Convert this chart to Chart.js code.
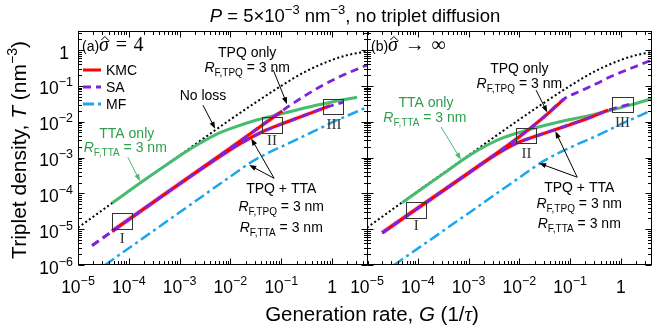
<!DOCTYPE html>
<html>
<head>
<meta charset="utf-8">
<title>Triplet density vs generation rate</title>
<script src="https://cdn.jsdelivr.net/npm/chart.js@4.4.1/dist/chart.umd.min.js"></script>
<style>
  html, body { margin: 0; padding: 0; background: #fff; }
  #wrap { position: relative; width: 654px; height: 331px; }
  #wrap canvas { position: absolute; left: 0; top: 0; }
</style>
</head>
<body>
<div id="wrap">
  <canvas id="panelA" width="654" height="331"></canvas>
  <canvas id="panelB" width="654" height="331"></canvas>
</div>
<script>
// ---- axes / tick labels ----
const xTickVals = [1e-5, 1e-4, 1e-3, 1e-2, 1e-1, 1];
const xTickLabels = ['10^-5', '10^-4', '10^-3', '10^-2', '10^-1', '1'];
const yTickVals = [1e-6, 1e-5, 1e-4, 1e-3, 1e-2, 1e-1, 1];
const yTickLabels = ['10^-6', '10^-5', '10^-4', '10^-3', '10^-2', '10^-1', '1'];
const legendNames = ['KMC', 'SA', 'MF'];

// ---- "no loss" curve (same in both panels) ----
const noLossG = [1e-5, 1e-4, 1e-3, 1e-2, 3e-2, 0.1, 0.3, 1, 2, 5.1];
const noLossT = [1.1e-5, 1.15e-4, 1.15e-3, 1.15e-2, 3.3e-2, 0.1, 0.25, 0.53, 0.72, 0.92];

// ---- panel (a), sigma = 4 ----
const aTtaG = [4.7e-5, 2.5e-4, 6.3e-4, 1.26e-3, 2.5e-3, 5.5e-3, 1.26e-2, 3.16e-2, 0.1, 0.316, 1, 3.1];
const aTtaT = [5.4e-5, 2.9e-4, 7.1e-4, 1.38e-3, 2.5e-3, 4.6e-3, 7.2e-3, 1.1e-2, 1.66e-2, 2.5e-2, 3.55e-2, 4.8e-2];
const aMfG = [3.4e-5, 1e-3, 1e-2, 2.75e-2, 5e-2, 0.1, 0.316, 1, 5.1];
const aMfT = [1e-6, 2.95e-5, 2.95e-4, 7.9e-4, 1.25e-3, 2e-3, 4.3e-3, 9.5e-3, 2.6e-2];
const aSaTpqG = [1.9e-5, 1e-4, 1e-3, 1e-2, 0.13, 0.57, 1.66, 5.1];
const aSaTpqT = [3.5e-6, 1.85e-5, 1.85e-4, 1.85e-3, 2.5e-2, 9.3e-2, 0.2, 0.39];
const aSaBothG = [1.9e-5, 1e-4, 1e-3, 4e-3, 1.55e-2, 4.4e-2, 0.105, 0.27, 0.66, 1.66];
const aSaBothT = [3.5e-6, 1.85e-5, 1.83e-4, 7e-4, 2.4e-3, 5.3e-3, 8.8e-3, 1.45e-2, 2.35e-2, 3.5e-2];
const aKmcTpqG = [4.7e-5, 1e-4, 1e-3, 1e-2, 0.105];
const aKmcTpqT = [8.8e-6, 1.88e-5, 1.87e-4, 1.86e-3, 2e-2];
const aKmcBothG = [4.7e-5, 1e-4, 1e-3, 4e-3, 1.55e-2, 4.4e-2, 0.105, 0.27, 0.66, 0.91];
const aKmcBothT = [8.8e-6, 1.88e-5, 1.84e-4, 7.05e-4, 2.42e-3, 5.35e-3, 8.8e-3, 1.45e-2, 2.35e-2, 2.8e-2];

// ---- panel (b), sigma -> infinity ----
const bTtaG = [4.9e-5, 3.2e-4, 1e-3, 2.5e-3, 5e-3, 1e-2, 2.5e-2, 6.3e-2, 0.2, 0.51, 1.58, 4.1];
const bTtaT = [5.5e-5, 3.55e-4, 1.1e-3, 2.35e-3, 3.63e-3, 5e-3, 7.2e-3, 1e-2, 1.41e-2, 1.95e-2, 2.95e-2, 4.4e-2];
const bMfG = [3.4e-5, 1e-3, 1e-2, 3.16e-2, 0.1, 0.316, 1, 4.1];
const bMfT = [1e-6, 2.8e-5, 2.75e-4, 8.3e-4, 1.9e-3, 3.9e-3, 8.5e-3, 2.1e-2];
const bSaTpqG = [2e-5, 1e-3, 1e-2, 3.16e-2, 7.6e-2, 0.158, 0.316, 0.63, 1.29, 4.1];
const bSaTpqT = [7.9e-6, 3.7e-4, 3.8e-3, 1.41e-2, 4.3e-2, 7.1e-2, 0.112, 0.182, 0.275, 0.53];
const bSaBothG = [2e-5, 1e-3, 3.16e-3, 8.7e-3, 2.14e-2, 5.1e-2, 0.1, 0.25, 0.56, 1.7];
const bSaBothT = [7.9e-6, 3.7e-4, 1.12e-3, 2.5e-3, 3.98e-3, 6e-3, 8.3e-3, 1.32e-2, 2.1e-2, 3.24e-2];
const bKmcTpqG = [2e-5, 1e-3, 1e-2, 3.16e-2, 7.6e-2];
const bKmcTpqT = [8e-6, 3.7e-4, 3.8e-3, 1.41e-2, 4.3e-2];
const bKmcBothG = [2e-5, 1e-3, 3.16e-3, 8.7e-3, 2.14e-2, 5.1e-2, 0.1, 0.25, 0.56];
const bKmcBothT = [8e-6, 3.7e-4, 1.12e-3, 2.5e-3, 3.98e-3, 6e-3, 8.3e-3, 1.32e-2, 2.1e-2];

// ---- styles ----
const RED = '#ff0000';
const PURPLE = '#7f22dd';
const BLUE = '#1ba6ef';
const GREEN = '#46bd6e';
const GREEN_TXT = '#2e9d4f';
const BAND = 'rgba(255, 90, 90, 0.22)';
const SA_DASH = [8, 5];
const MF_DASH = [11, 4, 3, 4];
const DOT_DASH = [2, 2.5];

const SANS = '"Liberation Sans", Arial, sans-serif';
const SERIF = '"Liberation Serif", "Times New Roman", serif';
const sans = (s, st) => `${st || 'normal'} ${s}px ${SANS}`;
const serif = (s, st) => `${st || 'normal'} ${s}px ${SERIF}`;

function series(G, T, color, width, dash, order) {
    return {
        data: G.map((g, i) => ({ x: g, y: T[i] })),
        borderColor: color,
        borderWidth: width,
        borderDash: dash,
        borderCapStyle: 'butt',
        order: order,
        fill: false,
        pointRadius: 0
    };
}

// ---- text helpers ----
// parts: [text, font, dy, hat]
function drawRich(ctx, parts, x, y, align, color) {
    let w = 0;
    const widths = parts.map(p => {
        ctx.font = p[1];
        const m = ctx.measureText(p[0]).width;
        w += m;
        return m;
    });
    let cx = align === 'center' ? x - w / 2 : (align === 'right' ? x - w : x);
    ctx.textAlign = 'left';
    ctx.textBaseline = 'alphabetic';
    ctx.fillStyle = color || '#000';
    ctx.strokeStyle = color || '#000';
    parts.forEach((p, i) => {
        ctx.font = p[1];
        ctx.fillText(p[0], cx, y + (p[2] || 0));
        if (p[3]) {
            // circumflex accent over the glyph
            const hx = cx + widths[i] * 0.58;
            ctx.lineWidth = 1;
            ctx.setLineDash([]);
            ctx.beginPath();
            ctx.moveTo(hx - 3.5, y - 11);
            ctx.lineTo(hx, y - 14.5);
            ctx.lineTo(hx + 3.5, y - 11);
            ctx.stroke();
        }
        cx += widths[i];
    });
}

function powParts(label) {
    const [b, e] = label.split('^');
    if (!e) return [[b, sans(17.5)]];
    return [[b, sans(17.5)], [e.replace('-', '\u2212'), sans(12.5), -8]];
}

const rf = kind => [['R', sans(14, 'italic')], ['F,' + kind, sans(10), 4], [' = 3 nm', sans(14)]];

function logTicks(min, max) {
    const out = [];
    for (let e = Math.floor(Math.log10(min)); e <= Math.ceil(Math.log10(max)); e++) {
        for (let m = 1; m < 10; m++) {
            const v = m * Math.pow(10, e);
            if (v >= min * 0.999 && v <= max * 1.001) out.push({ v, major: m === 1 });
        }
    }
    return out;
}

function arrow(ctx, x1, y1, x2, y2, color) {
    const ang = Math.atan2(y2 - y1, x2 - x1);
    const hl = 7, hw = 2.6;
    ctx.strokeStyle = color;
    ctx.fillStyle = color;
    ctx.lineWidth = 1;
    ctx.setLineDash([]);
    ctx.beginPath();
    ctx.moveTo(x1, y1);
    ctx.lineTo(x2 - Math.cos(ang) * hl * 0.8, y2 - Math.sin(ang) * hl * 0.8);
    ctx.stroke();
    ctx.beginPath();
    ctx.moveTo(x2, y2);
    ctx.lineTo(x2 - Math.cos(ang) * hl + Math.sin(ang) * hw, y2 - Math.sin(ang) * hl - Math.cos(ang) * hw);
    ctx.lineTo(x2 - Math.cos(ang) * hl - Math.sin(ang) * hw, y2 - Math.sin(ang) * hl + Math.cos(ang) * hw);
    ctx.closePath();
    ctx.fill();
}

// frame, inward ticks and tick labels
function drawFrame(chart, withYLabels) {
    const ctx = chart.ctx, a = chart.chartArea, xs = chart.scales.x, ys = chart.scales.y;
    const L = Math.round(a.left) + 0.5, R = Math.round(a.right) - 0.5;
    const T = Math.round(a.top) + 0.5, B = Math.round(a.bottom) - 0.5;
    ctx.save();
    ctx.setLineDash([]);
    ctx.strokeStyle = '#000';
    ctx.lineWidth = 1;
    ctx.strokeRect(L, T, R - L, B - T);
    ctx.beginPath();
    logTicks(xs.min, xs.max).forEach(t => {
        const x = Math.round(xs.getPixelForValue(t.v)) + 0.5, len = t.major ? 6 : 3.5;
        ctx.moveTo(x, B); ctx.lineTo(x, B - len);
        ctx.moveTo(x, T); ctx.lineTo(x, T + len);
    });
    logTicks(ys.min, ys.max).forEach(t => {
        const y = Math.round(ys.getPixelForValue(t.v)) + 0.5, len = t.major ? 6 : 3.5;
        ctx.moveTo(L, y); ctx.lineTo(L + len, y);
        ctx.moveTo(R, y); ctx.lineTo(R - len, y);
    });
    ctx.stroke();
    xTickVals.forEach((v, i) => {
        drawRich(ctx, powParts(xTickLabels[i]), xs.getPixelForValue(v), a.bottom + 28, 'center');
    });
    if (withYLabels) {
        yTickVals.forEach((v, i) => {
            const lab = yTickLabels[i];
            const dx = lab.includes('^') ? 5 : 9;
            drawRich(ctx, powParts(lab), a.left - dx, ys.getPixelForValue(v) + 8.5, 'right');
        });
    }
    ctx.restore();
}

function drawBoxes(chart, boxes) {
    const ctx = chart.ctx, xs = chart.scales.x, ys = chart.scales.y;
    const X = lg => xs.getPixelForValue(Math.pow(10, lg));
    const Y = lg => ys.getPixelForValue(Math.pow(10, lg));
    ctx.save();
    ctx.setLineDash([]);
    ctx.strokeStyle = '#333';
    ctx.lineWidth = 1;
    boxes.forEach(b => {
        const x0 = Math.round(X(b[0])) + 0.5, x1 = Math.round(X(b[1])) + 0.5;
        const y0 = Math.round(Y(b[3])) + 0.5, y1 = Math.round(Y(b[2])) + 0.5;
        ctx.strokeRect(x0, y0, x1 - x0, y1 - y0);
        drawRich(ctx, [[b[4], serif(15)]], X(b[5]), Y(b[6]) + 5, 'center', '#333');
    });
    ctx.restore();
}

// annotations of panel (a); positions in log10 data units
function notesA(chart) {
    const ctx = chart.ctx, a = chart.chartArea, xs = chart.scales.x, ys = chart.scales.y;
    const X = lg => xs.getPixelForValue(Math.pow(10, lg));
    const Y = lg => ys.getPixelForValue(Math.pow(10, lg));
    ctx.save();
    drawRich(ctx, [['(a)', sans(14)], ['\u03C3', serif(20, 'italic'), 0, true], ['\u2004=\u20044', serif(20)]], a.left + 4, a.top + 20, 'left');

    // legend
    const legendStyle = [[RED, []], [PURPLE, SA_DASH], [BLUE, MF_DASH]];
    legendNames.forEach((name, i) => {
        const y = a.top + 39 + i * 17;
        ctx.strokeStyle = legendStyle[i][0];
        ctx.lineWidth = 3;
        ctx.setLineDash(legendStyle[i][1]);
        ctx.beginPath();
        ctx.moveTo(a.left + 5, y);
        ctx.lineTo(a.left + 23, y);
        ctx.stroke();
        drawRich(ctx, [[name, sans(14)]], a.left + 28, y + 5, 'left');
    });
    ctx.setLineDash([]);

    drawRich(ctx, [['TPQ only', sans(14)]], X(-1.67), Y(-0.06) + 5, 'center');
    drawRich(ctx, rf('TPQ'), X(-1.67), Y(-0.47) + 5, 'center');
    arrow(ctx, X(-1.156), Y(-0.56), X(-0.886), Y(-1.51), '#000');

    drawRich(ctx, [['No loss', sans(14)]], X(-2.54), Y(-1.26) + 5, 'center');
    arrow(ctx, X(-2.54), Y(-1.54), X(-2.30), Y(-2.2), '#000');

    drawRich(ctx, [['TTA only', sans(14)]], X(-4.04), Y(-2.32) + 5, 'center', GREEN_TXT);
    drawRich(ctx, rf('TTA'), X(-4.07), Y(-2.71) + 5, 'center', GREEN_TXT);
    arrow(ctx, X(-4.02), Y(-2.99), X(-3.78), Y(-3.66), GREEN);

    drawRich(ctx, [['TPQ + TTA', sans(14)]], X(-1.0), Y(-3.85) + 5, 'center');
    drawRich(ctx, rf('TPQ'), X(-1.0), Y(-4.36) + 5, 'center');
    drawRich(ctx, rf('TTA'), X(-1.0), Y(-4.94) + 5, 'center');
    arrow(ctx, X(-1.14), Y(-3.58), X(-1.63), Y(-3.21), '#000');
    arrow(ctx, X(-1.14), Y(-3.58), X(-1.59), Y(-2.47), '#000');
    ctx.restore();

    drawBoxes(chart, [
        [-4.33, -3.94, -5.0, -4.55, 'I', -4.13, -5.25],
        [-1.38, -0.98, -2.32, -1.87, 'II', -1.18, -2.51],
        [-0.18, 0.22, -1.79, -1.37, 'III', 0.04, -2.07]
    ]);
}

// annotations of panel (b)
function notesB(chart) {
    const ctx = chart.ctx, a = chart.chartArea, xs = chart.scales.x, ys = chart.scales.y;
    const X = lg => xs.getPixelForValue(Math.pow(10, lg));
    const Y = lg => ys.getPixelForValue(Math.pow(10, lg));
    ctx.save();
    drawRich(ctx, [['(b)', sans(14)], ['\u03C3', serif(20, 'italic'), 0, true], ['\u2004\u2192\u2004\u221E', serif(20)]], a.left + 4, a.top + 20, 'left');

    drawRich(ctx, [['TPQ only', sans(14)]], X(-2.0), Y(-0.50) + 5, 'center');
    drawRich(ctx, rf('TPQ'), X(-2.0), Y(-0.92) + 5, 'center');
    arrow(ctx, X(-1.67), Y(-1.12), X(-1.45), Y(-1.74), '#000');

    drawRich(ctx, [['TTA only', sans(14)]], X(-3.84), Y(-1.45) + 5, 'center', GREEN_TXT);
    drawRich(ctx, rf('TTA'), X(-3.86), Y(-1.87) + 5, 'center', GREEN_TXT);
    arrow(ctx, X(-3.54), Y(-2.15), X(-3.15), Y(-3.06), GREEN);

    drawRich(ctx, [['TPQ + TTA', sans(14)]], X(-0.82), Y(-3.83) + 5, 'center');
    drawRich(ctx, rf('TPQ'), X(-0.82), Y(-4.27) + 5, 'center');
    drawRich(ctx, rf('TTA'), X(-0.82), Y(-4.83) + 5, 'center');
    arrow(ctx, X(-0.86), Y(-3.55), X(-1.61), Y(-3.16), '#000');
    arrow(ctx, X(-0.86), Y(-3.55), X(-1.29), Y(-2.27), '#000');
    ctx.restore();

    drawBoxes(chart, [
        [-4.23, -3.84, -4.69, -4.25, 'I', -4.03, -4.89],
        [-2.06, -1.67, -2.6, -2.18, 'II', -1.86, -2.88],
        [-0.17, 0.23, -1.73, -1.31, 'III', 0.03, -2.01]
    ]);
}

// shared title and axis titles
function drawTitles(chart) {
    const ctx = chart.ctx;
    ctx.save();
    drawRich(ctx, [
        ['P', sans(18.5, 'italic')], [' = 5\u00D710', sans(18.5)], ['\u22123', sans(13), -8],
        [' nm', sans(18.5)], ['\u22123', sans(13), -8], [', no triplet diffusion', sans(18.5)]
    ], 355, 22, 'center');
    drawRich(ctx, [
        ['Generation rate, ', sans(20.5)], ['G', sans(20.5, 'italic')], [' (1/', sans(20.5)],
        ['\u03C4', serif(21, 'italic')], [')', sans(20.5)]
    ], 372, 321, 'center');
    ctx.translate(26, 150);
    ctx.rotate(-Math.PI / 2);
    drawRich(ctx, [
        ['Triplet density, ', sans(21)], ['T', sans(21, 'italic')], [' (nm', sans(21)],
        ['\u22123', sans(14), -9], [')', sans(21)]
    ], 0, 0, 'center');
    ctx.restore();
}

function makeChart(id, sets, xMax, padding, extras) {
    return new Chart(document.getElementById(id), {
        type: 'line',
        data: { datasets: sets },
        options: {
            responsive: false,
            animation: false,
            events: [],
            layout: { padding: padding },
            elements: { line: { cubicInterpolationMode: 'monotone' }, point: { radius: 0 } },
            plugins: { legend: { display: false }, tooltip: { enabled: false } },
            scales: {
                x: { type: 'logarithmic', min: 1e-5, max: xMax, display: false },
                y: { type: 'logarithmic', min: 1e-6, max: 3.4, display: false }
            }
        },
        plugins: [{ id: 'decor' + id, afterDraw: extras }]
    });
}

makeChart('panelA', [
    series(aSaTpqG, aSaTpqT, PURPLE, 2.8, SA_DASH, 1),
    series(aSaBothG, aSaBothT, PURPLE, 2.8, SA_DASH, 1),
    series(aKmcTpqG, aKmcTpqT, RED, 3, [], 2),
    series(aKmcBothG, aKmcBothT, RED, 3, [], 2),
    series(aKmcTpqG, aKmcTpqT, BAND, 5, [], 3),
    series(aKmcBothG, aKmcBothT, BAND, 5, [], 3),
    series(aMfG, aMfT, BLUE, 2.5, MF_DASH, 4),
    series(aTtaG, aTtaT, GREEN, 3, [], 5),
    series(noLossG, noLossT, '#000', 2, DOT_DASH, 6)
], 5.1, { left: 78, right: 286, top: 31, bottom: 66 }, chart => {
    drawFrame(chart, true);
    notesA(chart);
    drawTitles(chart);
});

makeChart('panelB', [
    series(bSaTpqG, bSaTpqT, PURPLE, 2.8, SA_DASH, 1),
    series(bSaBothG, bSaBothT, PURPLE, 2.8, SA_DASH, 1),
    series(bKmcTpqG, bKmcTpqT, RED, 3, [], 2),
    series(bKmcBothG, bKmcBothT, RED, 3, [], 2),
    series(bKmcTpqG, bKmcTpqT, BAND, 5, [], 3),
    series(bKmcBothG, bKmcBothT, BAND, 5, [], 3),
    series(bMfG, bMfT, BLUE, 2.5, MF_DASH, 4),
    series(bTtaG, bTtaT, GREEN, 3, [], 5),
    series(noLossG, noLossT, '#000', 2, DOT_DASH, 6)
], 4.1, { left: 367, right: 2, top: 31, bottom: 66 }, chart => {
    drawFrame(chart, false);
    notesB(chart);
});
</script>
</body>
</html>
